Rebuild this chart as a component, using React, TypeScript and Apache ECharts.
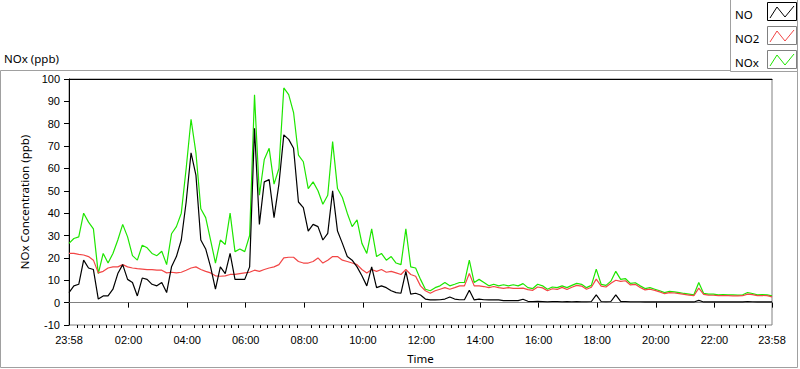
import React, { useEffect, useRef } from "react";
import * as echarts from "echarts";

// minutes after the 23:58 start, sampled every 10 minutes
const STEP_MIN = 10;
const SERIES_NAMES = ["NO", "NO2", "NOx"];

const noValues = [
  4.5, 7.5, 8.2, 19, 15.5, 14.8, 1.6, 3, 3, 6,
  13, 17, 10.4, 9, 3, 11, 10.4, 8.2, 7.5, 9,
  4.5, 16, 20.6, 28, 45, 67, 57, 28, 24, 16,
  6, 16, 13, 22, 10.4, 10.4, 10.4, 16, 78, 35,
  54, 55, 38, 53, 75, 73, 69, 45, 42.5, 32,
  35, 34, 28, 31, 50, 32, 26.5, 20.6, 19, 16,
  12, 7.5, 16, 6.7, 7.5, 6.7, 5.3, 4.5, 4.2, 14,
  3.8, 4.2, 3.4, 1.6, 1.2, 1.2, 1.3, 1.6, 2.5, 1.6,
  1.3, 1.3, 5.5, 1.2, 1.6, 1.3, 1.2, 1.2, 1.2, 0.9,
  0.9, 0.9, 0.9, 1.5, 0.6, 0.5, 0.6, 0.5, 0.4, 0.5,
  0.5, 0.4, 0.5, 0.4, 0.5, 0.4, 0.4, 0.5, 3.5, 0.5,
  0.4, 0.5, 3.5, 0.6, 0.5, 0.4, 0.4, 0.4, 0.3, 0.4,
  0.3, 0.3, 0.4, 0.3, 0.3, 0.4, 0.3, 0.3, 0.3, 1,
  0.3, 0.3, 0.4, 0.3, 0.3, 0.3, 0.4, 0.3, 0.3, 0.5,
  0.4, 0.3, 0.3, 0.3, 0.3,
];

const no2Values = [
  22, 22, 21.6, 21.3, 20.6, 19, 13.3, 14, 15.5, 16,
  16, 17, 16, 15.5, 15.2, 15, 14.8, 14.8, 14.5, 14.5,
  13.3, 13.6, 13.3, 13.6, 14.5, 15.5, 16, 14.8, 14, 13.3,
  12, 11.8, 12, 12.6, 12.6, 13, 13.3, 13.6, 14.5, 14,
  14.8, 15.5, 16, 17, 20, 20.3, 20.3, 18.4, 17.7, 17.7,
  18.4, 20, 17.7, 19, 20.6, 20.6, 19, 18.4, 17.7, 17,
  14.8, 13.3, 14.8, 14, 14.8, 13.6, 14, 13.3, 12.6, 14.8,
  12.6, 11.8, 7.5, 5.3, 4.2, 5.3, 6, 6.7, 6, 6.7,
  7.5, 7.5, 13, 7.5, 7.5, 7.2, 6.7, 7.2, 6.7, 6.4,
  6.7, 6.4, 6.4, 6.5, 5.8, 5.5, 7, 6.6, 5.3, 6.2,
  5.9, 6.8, 5.9, 6.9, 7.7, 7.4, 6.0, 6.9, 10.5, 7.4,
  7.0, 8.7, 10, 9.5, 9.8, 7.9, 8.2, 6.8, 5.7, 6.0,
  5.5, 4.8, 4.0, 4.5, 4.3, 4.0, 3.7, 3.4, 3.1, 6.5,
  3.7, 3.4, 3.3, 3.1, 3.2, 3.1, 3.0, 3.0, 3.1, 3.8,
  3.6, 3.1, 3.2, 3.1, 2.6,
];

const noxValues = [
  26.5, 28.7, 29.4, 40, 36, 33, 13, 22, 17.7, 22,
  28, 35, 29.4, 21, 19, 25.7, 24.5, 22, 21, 23,
  17, 30.8, 34, 40, 60, 82, 67, 42, 38, 28,
  17.7, 28, 26, 40, 22.8, 24, 22.8, 30, 93, 48,
  64, 69, 53, 60, 96, 93, 85, 66, 63, 51,
  54, 50, 44, 48, 72, 51, 47, 40, 34, 37,
  26.5, 22, 33, 20.6, 22, 19, 20.6, 17.7, 17, 33,
  16, 15.5, 10.4, 6, 5.3, 6.7, 7.5, 9, 7.5, 8.2,
  9, 9, 19, 9, 10.4, 9, 7.5, 8.2, 7.5, 8,
  7.5, 8, 7.5, 8.5, 6.7, 6.3, 8.2, 7.5, 6, 7,
  6.7, 7.5, 6.7, 7.7, 8.6, 8.2, 6.7, 7.7, 15, 8.2,
  7.7, 9.6, 14, 10.4, 10.7, 8.6, 8.9, 7.5, 6.3, 6.7,
  6, 5.3, 4.5, 5, 4.8, 4.5, 4.1, 3.8, 3.5, 9,
  4.1, 3.8, 3.8, 3.5, 3.6, 3.5, 3.5, 3.4, 3.5, 4.5,
  4.1, 3.5, 3.6, 3.5, 3,
];

// tick positions (minutes after 23:58)
const xMajorTicks = [0, 122, 242, 362, 482, 602, 722, 842, 962, 1082, 1202, 1322, 1440];
const xMinorTicks: number[] = [];
for (let k = 1; k < 96; k++) {
  if ((15 * k) % 120 !== 0) xMinorTicks.push(2 + 15 * k);
}

const COLORS = { NO: "#000000", NO2: "#f24646", NOx: "#1ee600" };
const UI_FONT = "Noto Sans";
const TICK_FONT = "Liberation Sans";

function fmtTime(t: number): string {
  if (t <= 0 || t >= 1440) return "23:58";
  const m = t - 2;
  const hh = Math.floor(m / 60);
  const mm = m % 60;
  return String(hh).padStart(2, "0") + ":" + String(mm).padStart(2, "0");
}

function toPairs(arr: number[]) {
  return arr.map((v, i) => [i * STEP_MIN, v]);
}

function legendItem(i: number, name: string, color: string, border: string) {
  const dy = i * 24;
  return [
    {
      type: "text",
      x: 735,
      y: 14 + dy,
      style: { text: name, fontSize: 11.5, fontFamily: UI_FONT, fill: "#000", verticalAlign: "middle" },
    },
    {
      type: "rect",
      shape: { x: 767.5, y: 2.5 + dy, width: 29, height: 18 },
      style: { fill: "#fff", stroke: border, lineWidth: 1 },
    },
    {
      type: "polyline",
      shape: { points: [[770, 18 + dy], [777, 7 + dy], [785, 17 + dy], [794, 6 + dy]] },
      style: { stroke: color, fill: null, lineWidth: 1 },
    },
  ];
}

export default function App() {
  const ref = useRef<HTMLDivElement>(null);
  useEffect(() => {
    if (!ref.current) return;
    const chart = echarts.init(ref.current, null, { renderer: "svg" });
    const option: any = {
      animation: false,
      backgroundColor: "#fff",
      grid: {
        left: 69,
        right: 28,
        top: 79,
        bottom: 39,
        show: true,
        borderColor: "#808080",
        borderWidth: 1,
        backgroundColor: "#fff",
      },
      xAxis: [
        {
          type: "value",
          min: 0,
          max: 1440,
          position: "bottom",
          name: "Time",
          nameLocation: "middle",
          nameGap: 27,
          nameTextStyle: { color: "#000", fontSize: 11.5, fontFamily: UI_FONT },
          axisLine: { show: true, lineStyle: { color: "#808080" } },
          axisTick: { show: true, customValues: xMajorTicks, length: 5, lineStyle: { color: "#000" } },
          axisLabel: {
            customValues: xMajorTicks,
            formatter: (v: number) => fmtTime(v),
            margin: 9,
            color: "#000",
            fontSize: 11,
            fontFamily: TICK_FONT,
          },
          splitLine: { show: false },
        },
        {
          type: "value",
          min: 0,
          max: 1440,
          position: "bottom",
          axisLine: { show: false },
          axisTick: { show: true, customValues: xMinorTicks, length: 3, lineStyle: { color: "#000" } },
          axisLabel: { show: false },
          splitLine: { show: false },
        },
        {
          type: "value",
          min: 0,
          max: 1440,
          position: "top",
          axisLine: { show: true, lineStyle: { color: "#000" } },
          axisTick: { show: false },
          axisLabel: { show: false },
          splitLine: { show: false },
        },
      ],
      yAxis: {
        type: "value",
        min: -10,
        max: 100,
        interval: 10,
        name: "NOx Concentration (ppb)",
        nameLocation: "middle",
        nameRotate: 90,
        nameGap: 31,
        nameTextStyle: { color: "#000", fontSize: 11.5, fontFamily: UI_FONT },
        axisLine: { show: true, lineStyle: { color: "#000" } },
        axisTick: { show: true, length: 5, lineStyle: { color: "#000" } },
        axisLabel: { margin: 9, color: "#000", fontSize: 11, fontFamily: TICK_FONT },
        splitLine: { show: false },
      },
      series: [
        {
          name: SERIES_NAMES[2],
          type: "line",
          xAxisIndex: 0,
          data: toPairs(noxValues),
          showSymbol: false,
          lineStyle: { color: COLORS.NOx, width: 1.2 },
          itemStyle: { color: COLORS.NOx },
          z: 2,
        },
        {
          name: SERIES_NAMES[1],
          type: "line",
          xAxisIndex: 0,
          data: toPairs(no2Values),
          showSymbol: false,
          lineStyle: { color: COLORS.NO2, width: 1.2 },
          itemStyle: { color: COLORS.NO2 },
          z: 3,
        },
        {
          name: SERIES_NAMES[0],
          type: "line",
          xAxisIndex: 0,
          data: toPairs(noValues),
          showSymbol: false,
          lineStyle: { color: COLORS.NO, width: 1.2 },
          itemStyle: { color: COLORS.NO },
          z: 4,
        },
      ],
      graphic: [
        {
          type: "rect",
          shape: { x: 0.5, y: 70.5, width: 797, height: 297 },
          style: { fill: null, stroke: "#a0a0a0", lineWidth: 1 },
        },
        {
          type: "text",
          x: 4,
          y: 58,
          style: { text: "NOx (ppb)", fontSize: 11.5, fontFamily: UI_FONT, fill: "#000", verticalAlign: "middle" },
        },
        {
          type: "rect",
          shape: { x: 730.5, y: -0.5, width: 67, height: 72 },
          style: { fill: "#fff", stroke: "#a0a0a0", lineWidth: 1 },
        },
        ...legendItem(0, SERIES_NAMES[0], COLORS.NO, "#000"),
        ...legendItem(1, SERIES_NAMES[1], COLORS.NO2, "#808080"),
        ...legendItem(2, SERIES_NAMES[2], COLORS.NOx, "#808080"),
      ],
    };
    chart.setOption(option);
    return () => chart.dispose();
  }, []);
  return (
    <div
      ref={ref}
      style={{ position: "fixed", left: 0, top: 0, width: 800, height: 369, background: "#fff" }}
    />
  );
}
